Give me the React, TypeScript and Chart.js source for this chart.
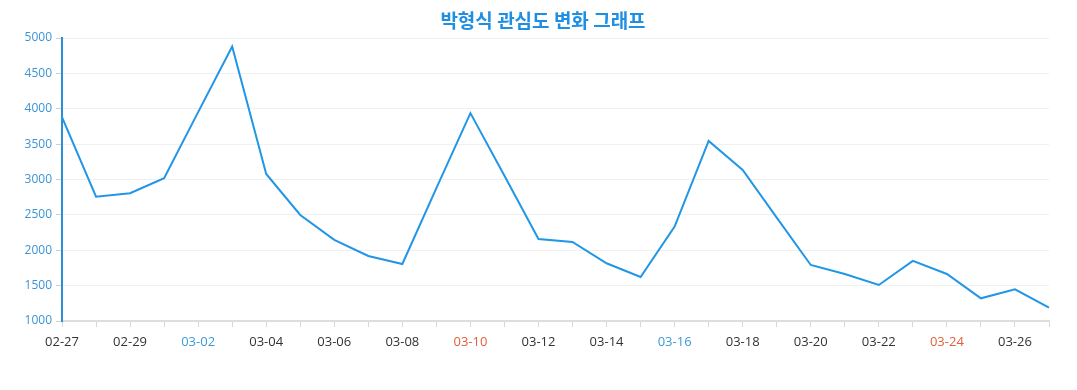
import React, { useEffect, useRef } from "react";
import { Chart, registerables } from "chart.js";

Chart.register(...registerables);

const TITLE = "박형식 관심도 변화 그래프";

const categories = [
  "02-27", "02-28", "02-29", "03-01", "03-02", "03-03", "03-04", "03-05", "03-06", "03-07",
  "03-08", "03-09", "03-10", "03-11", "03-12", "03-13", "03-14", "03-15", "03-16", "03-17",
  "03-18", "03-19", "03-20", "03-21", "03-22", "03-23", "03-24", "03-25", "03-26", "03-27",
];

const interest = [
  3881, 2758, 2806, 3018, 3952, 4880, 3079, 2499, 2146, 1919,
  1806, 2877, 3938, 3052, 2160, 2117, 1816, 1622, 2334, 3546,
  3136, 2461, 1792, 1665, 1509, 1849, 1665, 1321, 1448, 1188,
];

const saturdays = ["03-02", "03-09", "03-16", "03-23"];
const sundays = ["03-03", "03-10", "03-17", "03-24"];

const yMin = 1000;
const yMax = 5000;
const yStep = 500;

export default function App() {
  const canvasRef = useRef<HTMLCanvasElement>(null);

  useEffect(() => {
    document.body.style.margin = "0";
    const canvas = canvasRef.current;
    if (!canvas) return;
    const chart = new Chart(canvas, {
      type: "line",
      data: {
        labels: categories,
        datasets: [
          {
            label: "관심도",
            data: interest,
            borderColor: "#2196e6",
            backgroundColor: "#2196e6",
            borderWidth: 2,
            pointRadius: 0,
            tension: 0,
            fill: false,
          },
        ],
      },
      options: {
        animation: false,
        responsive: false,
        maintainAspectRatio: false,
        layout: { padding: { left: 0, right: 28, top: 38, bottom: 0 } },
        plugins: {
          legend: { display: false },
          tooltip: { enabled: false },
          title: { display: false },
        },
        scales: {
          x: {
            offset: false,
            border: { display: true, color: "#dddddd", width: 2 },
            grid: { drawOnChartArea: false, drawTicks: true, tickLength: 6, tickColor: "#d8d8d8" },
            ticks: {
              autoSkip: false,
              maxRotation: 0,
              padding: 7,
              font: { family: "'Open Sans', sans-serif", size: 13 },
              color: (ctx: any) => {
                const lab = categories[ctx.index];
                if (saturdays.includes(lab)) return "#3a9bd5";
                if (sundays.includes(lab)) return "#e0603c";
                return "#333333";
              },
              callback: (_v: any, i: number) => (i % 2 === 0 ? categories[i] : ""),
            },
            afterFit: (s: any) => {
              s.height = 69;
            },
          },
          y: {
            min: yMin,
            max: yMax,
            border: { display: true, color: "#2a8fd8", width: 2 },
            grid: { color: "#f0f0f0", drawTicks: true, tickLength: 6, tickColor: "#d0d0d0" },
            ticks: {
              stepSize: yStep,
              padding: 4,
              color: "#3a94d6",
              font: { family: "'Open Sans', sans-serif", size: 12 },
              callback: (v: any) => String(v),
            },
            afterFit: (s: any) => {
              s.width = 62;
            },
          },
        },
      },
    });
    return () => chart.destroy();
  }, []);

  return (
    <div style={{ position: "relative", width: 1077, height: 390 }}>
      <canvas ref={canvasRef} width={1077} height={390} style={{ width: 1077, height: 390, display: "block" }} />
      <div
        style={{
          position: "absolute",
          left: 0,
          top: 8,
          width: 1086,
          textAlign: "center",
          fontFamily: "'Noto Sans CJK KR', 'Noto Sans', sans-serif",
          fontWeight: "bold",
          fontSize: 19,
          lineHeight: "24px",
          color: "#1f8fe3",
          whiteSpace: "nowrap",
        }}
      >
        {TITLE}
      </div>
    </div>
  );
}
